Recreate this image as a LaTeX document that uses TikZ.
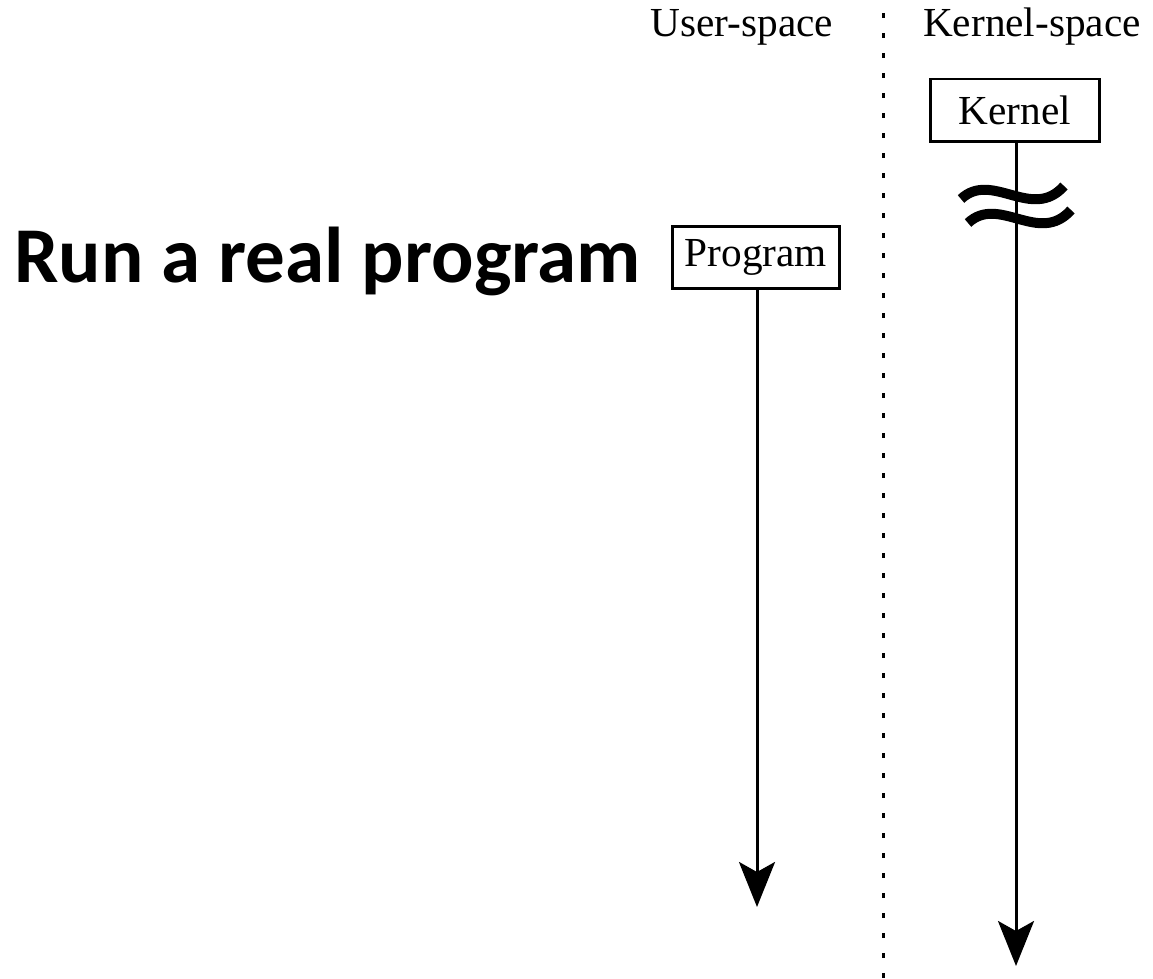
\documentclass[tikz,border=0pt]{standalone}
\usepackage{fontspec}
\setmainfont{Liberation Serif}
\newfontfamily\headfont{Carlito}
\usetikzlibrary{arrows.meta}
\begin{document}
\begin{tikzpicture}[x=0.02cm,y=-0.02cm,
  lifebox/.style={draw,line width=0.06cm,inner sep=0pt,minimum height=1.26cm,font=\fontsize{23.5}{26}\selectfont},
  spacelabel/.style={font=\fontsize{23.5}{26}\selectfont,inner sep=0pt,anchor=base},
  timeline/.style={line width=0.06cm,-{Stealth[length=0.9cm,width=0.72cm,inset=0.2cm]}},
  divider/.style={line width=0.06cm,dash pattern=on 0.11cm off 0.29cm},
  breakmark/.style={line width=0.2cm}]
\useasboundingbox (0,0) rectangle (1153,979);

% region labels
\node[spacelabel] (user) at (742,37) {User-space};
\node[spacelabel] (kspace) at (1032,37) {Kernel-space};

% boundary between user and kernel space
\coordinate (divtop) at (883.5,13);
\coordinate (divbot) at (883.5,979);
\draw[divider] (divtop) -- (divbot);

% heading
\node[anchor=base west,inner sep=0pt,font=\headfont\bfseries\fontsize{45}{50}\selectfont] (title) at (14,283) {Run a real program};

% lifelines
\node[lifebox,minimum width=3.36cm] (prog) at (756,257.5) {Program};
\node[lifebox,minimum width=3.4cm] (kern) at (1015,110.5) {Kernel};

\coordinate (progend) at (757,907);
\coordinate (kernend) at (1016,966);
\draw[timeline] (prog.south -| progend) -- (progend);
\draw[timeline] (kern.south -| kernend) -- (kernend);

% break in the kernel timeline
\draw[breakmark] (961,199) .. controls (992,170) and (1032,222) .. (1064,186);
\draw[breakmark] (968,223) .. controls (999,194) and (1039,246) .. (1071,210);
\end{tikzpicture}
\end{document}
